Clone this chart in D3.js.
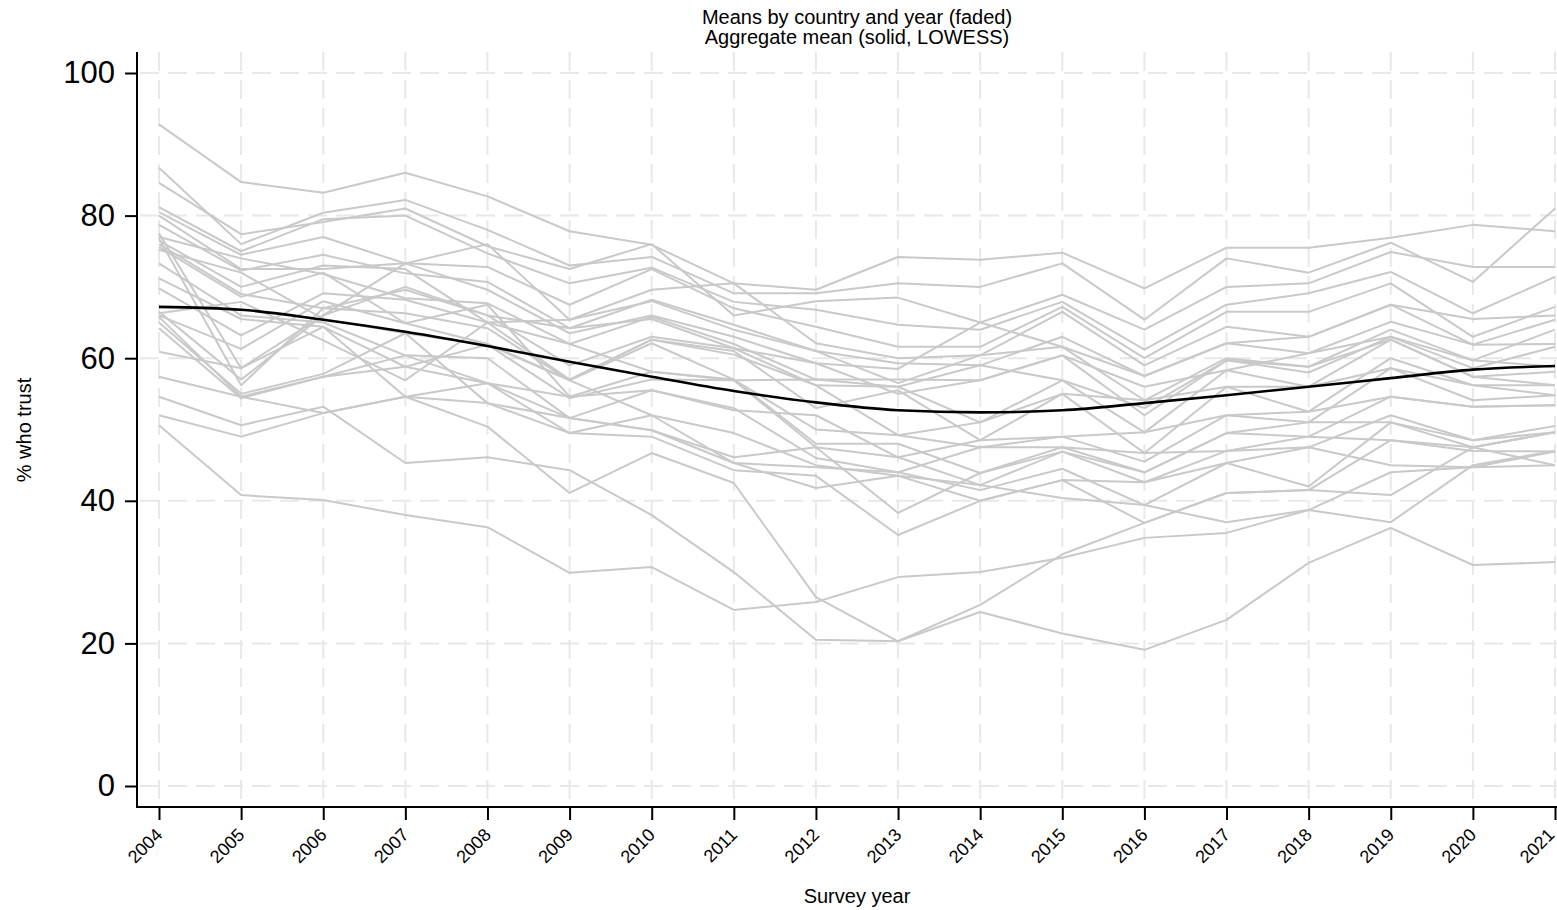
<!DOCTYPE html>
<html>
<head>
<meta charset="utf-8">
<script src="https://cdn.jsdelivr.net/npm/d3@7"></script>
<style>
  body { margin: 0; background: #fff; }
  text { font-family: "Liberation Sans", Arial, sans-serif; fill: #000; }
</style>
</head>
<body>
<div id="chart"></div>
<script>
"use strict";

// survey years on the x axis
var years = d3.range(2004, 2022);
var yTicks = [0, 20, 40, 60, 80, 100];

// country-by-year means (% who trust), one row per country, 2004..2021
var countryMeans = [
  [92.8, 84.7, 83.2, 86.0, 82.7, 77.8, 75.9, 70.5, 69.6, 74.2, 73.8, 74.8, 69.8, 75.5, 75.5, 76.9, 78.7, 77.8],
  [86.7, 76.0, 80.4, 82.2, 78.0, 73.0, 74.2, 69.1, 69.1, 70.5, 70.0, 73.3, 65.4, 74.0, 72.0, 76.2, 70.7, 81.0],
  [84.6, 77.4, 79.1, 81.0, 75.7, 72.5, 76.0, 66.0, 68.0, 68.5, 65.0, 68.9, 64.0, 70.0, 70.5, 74.9, 72.8, 72.8],
  [81.2, 75.0, 79.5, 80.0, 74.7, 70.5, 72.7, 67.9, 66.8, 64.7, 64.0, 67.9, 61.2, 67.5, 69.1, 72.1, 66.3, 71.4],
  [80.5, 74.5, 77.0, 73.3, 72.8, 67.5, 72.5, 67.0, 64.4, 61.6, 61.6, 67.2, 60.0, 66.5, 66.5, 70.5, 63.0, 67.2],
  [80.0, 72.5, 72.5, 73.3, 76.0, 65.4, 69.6, 70.5, 62.1, 60.0, 60.4, 66.5, 59.0, 64.4, 63.0, 67.5, 65.5, 66.0],
  [78.7, 72.3, 74.5, 71.9, 70.7, 64.2, 68.2, 64.7, 61.0, 59.3, 59.0, 63.0, 57.5, 62.1, 60.7, 65.1, 61.9, 65.4],
  [77.5, 58.6, 66.0, 73.3, 69.6, 63.5, 66.0, 63.0, 59.3, 58.5, 65.0, 61.6, 54.1, 60.0, 58.8, 64.0, 59.7, 64.0],
  [77.0, 74.0, 71.8, 68.4, 67.7, 62.0, 65.8, 62.0, 57.0, 57.0, 56.9, 60.4, 52.0, 59.7, 58.0, 63.0, 58.6, 61.6],
  [76.8, 56.2, 67.0, 69.6, 66.0, 59.0, 63.0, 61.4, 56.2, 56.0, 51.0, 56.9, 49.6, 58.3, 56.0, 62.6, 57.4, 58.1],
  [76.5, 70.0, 73.0, 72.5, 65.0, 57.0, 62.6, 61.0, 53.0, 55.5, 48.5, 55.0, 46.7, 56.0, 52.5, 60.0, 56.2, 56.2],
  [76.0, 69.0, 67.0, 66.3, 64.2, 56.9, 62.1, 57.0, 50.0, 49.2, 47.5, 49.0, 45.5, 52.0, 51.0, 58.6, 54.1, 54.8],
  [75.6, 68.6, 72.0, 64.9, 67.5, 54.6, 58.1, 57.0, 48.0, 48.0, 43.9, 47.5, 44.0, 49.5, 49.0, 54.6, 53.2, 53.4],
  [75.2, 72.0, 65.5, 63.5, 61.9, 54.4, 57.0, 56.9, 47.5, 46.1, 42.2, 46.9, 42.6, 47.0, 47.5, 52.0, 48.5, 50.5],
  [73.3, 66.0, 65.0, 60.4, 60.0, 51.6, 55.5, 53.0, 46.0, 44.0, 41.5, 44.5, 39.4, 45.3, 42.0, 51.0, 47.5, 49.6],
  [71.2, 65.5, 64.4, 58.8, 56.5, 49.5, 52.0, 49.5, 45.0, 43.5, 40.0, 42.9, 36.9, 41.1, 41.5, 48.5, 47.0, 46.9],
  [69.8, 63.2, 69.1, 68.2, 65.0, 65.4, 68.0, 64.0, 61.0, 56.5, 60.4, 61.6, 57.5, 62.1, 63.0, 67.5, 61.9, 62.0],
  [66.5, 57.0, 66.0, 70.0, 66.0, 64.2, 65.5, 61.4, 59.3, 55.0, 56.9, 60.4, 56.0, 58.3, 60.7, 63.0, 59.7, 58.8],
  [66.3, 67.9, 62.5, 56.9, 65.0, 62.0, 58.1, 56.9, 57.0, 56.0, 59.0, 56.9, 53.0, 59.7, 58.8, 62.6, 57.4, 56.2],
  [66.0, 61.3, 68.0, 64.9, 62.0, 57.0, 62.6, 60.5, 56.2, 49.2, 51.0, 55.0, 54.1, 56.0, 56.0, 58.6, 56.2, 54.8],
  [65.8, 54.6, 57.4, 60.4, 56.5, 54.6, 55.5, 52.7, 52.0, 46.1, 48.5, 49.0, 49.6, 52.0, 52.5, 54.6, 53.2, 53.4],
  [65.0, 55.0, 57.8, 63.5, 53.7, 51.6, 49.9, 46.1, 47.5, 38.3, 43.9, 46.9, 44.0, 49.5, 51.0, 51.0, 48.5, 49.6],
  [64.2, 54.4, 57.4, 58.8, 61.9, 56.9, 52.0, 45.3, 44.7, 44.0, 47.5, 47.5, 46.7, 47.0, 49.0, 48.5, 47.5, 45.0],
  [60.9, 58.6, 64.4, 54.6, 53.7, 49.5, 49.0, 44.3, 43.5, 35.2, 40.0, 42.9, 42.6, 45.3, 47.5, 45.0, 44.7, 46.9],
  [57.4, 54.6, 52.3, 54.6, 50.4, 41.1, 46.7, 42.5, 26.5, 20.3, 24.4, 21.4, 19.1, 23.3, 31.3, 36.2, 31.0, 31.4],
  [54.6, 50.6, 53.2, 45.3, 46.1, 44.3, 38.0, 30.0, 20.5, 20.3, 25.4, 32.5, 36.9, 41.1, 41.5, 40.8, 47.5, 49.6],
  [52.0, 49.0, 52.3, 54.6, 56.5, 51.6, 49.9, 45.3, 41.8, 43.5, 42.2, 40.4, 39.4, 37.0, 38.7, 44.0, 44.7, 45.0],
  [50.6, 40.8, 40.1, 38.0, 36.3, 29.9, 30.7, 24.7, 25.8, 29.3, 30.0, 32.0, 34.8, 35.5, 38.7, 37.0, 45.0, 47.0]
];

// aggregate mean, LOWESS smoothed
var lowessMean = [67.2, 66.8, 65.4, 63.7, 61.7, 59.5, 57.4, 55.4, 53.8, 52.7, 52.4, 52.7, 53.7, 54.8, 56.0, 57.2, 58.4, 58.9];

var width = 1557, height = 910;
var axisX = 137, axisY = 807, plotTop = 52;

var svg = d3.select("#chart").append("svg")
    .attr("width", width)
    .attr("height", height);

var x = d3.scaleLinear().domain([2004, 2021]).range([159, 1555]);
var y = d3.scaleLinear().domain([0, 100]).range([786, 73]);

// dashed grid
var grid = svg.append("g").attr("class", "grid")
    .attr("stroke", "#e8e8e8")
    .attr("stroke-width", 2)
    .attr("stroke-dasharray", "19,9");

grid.selectAll("line.h")
    .data(yTicks)
    .enter().append("line")
    .attr("class", "h")
    .attr("x1", axisX + 3).attr("x2", width)
    .attr("y1", function(d) { return y(d); })
    .attr("y2", function(d) { return y(d); });

grid.selectAll("line.v")
    .data(years)
    .enter().append("line")
    .attr("class", "v")
    .attr("y1", plotTop).attr("y2", axisY)
    .attr("x1", function(d) { return x(d); })
    .attr("x2", function(d) { return x(d); });

var line = d3.line()
    .x(function(d, i) { return x(years[i]); })
    .y(function(d) { return y(d); });

svg.append("g").attr("class", "countries")
    .selectAll("path")
    .data(countryMeans)
    .enter().append("path")
    .attr("d", line)
    .attr("fill", "none")
    .attr("stroke", "#c9c9c9")
    .attr("stroke-width", 2)
    .attr("stroke-linejoin", "round");

svg.append("path")
    .datum(lowessMean)
    .attr("d", line.curve(d3.curveMonotoneX))
    .attr("fill", "none")
    .attr("stroke", "#000")
    .attr("stroke-width", 2.6);

// y axis
var yAxis = svg.append("g")
    .attr("transform", "translate(" + axisX + ",0)")
    .call(d3.axisLeft(y).tickValues(yTicks).tickSize(12).tickPadding(10).tickSizeOuter(0));
yAxis.select(".domain").remove();
yAxis.selectAll(".tick line").attr("stroke", "#000").attr("stroke-width", 2);
yAxis.selectAll(".tick text")
    .style("font-size", "31px")
    .style("font-family", "'Liberation Sans', Arial, sans-serif");
svg.append("line")
    .attr("x1", axisX).attr("x2", axisX)
    .attr("y1", plotTop).attr("y2", axisY + 1)
    .attr("stroke", "#000").attr("stroke-width", 2);

// x axis
var xAxis = svg.append("g")
    .attr("transform", "translate(0," + axisY + ")")
    .call(d3.axisBottom(x).tickValues(years).tickFormat(d3.format("d")).tickSize(13).tickSizeOuter(0));
xAxis.select(".domain").remove();
xAxis.selectAll(".tick line").attr("stroke", "#000").attr("stroke-width", 2);
xAxis.selectAll(".tick text")
    .style("font-size", "18px")
    .style("font-family", "'Liberation Sans', Arial, sans-serif")
    .attr("text-anchor", "end")
    .attr("y", 0).attr("dy", 0)
    .attr("transform", function(d) {
        // last label would run past the right edge
        return "translate(" + (d === 2021 ? 0 : 4) + ",29) rotate(-45)";
    });
svg.append("line")
    .attr("x1", axisX - 1).attr("x2", width)
    .attr("y1", axisY).attr("y2", axisY)
    .attr("stroke", "#000").attr("stroke-width", 2);

// titles
svg.append("text")
    .attr("x", 857).attr("y", 24)
    .attr("text-anchor", "middle")
    .style("font-size", "20px")
    .text("Means by country and year (faded)");
svg.append("text")
    .attr("x", 857).attr("y", 44)
    .attr("text-anchor", "middle")
    .style("font-size", "20px")
    .text("Aggregate mean (solid, LOWESS)");

svg.append("text")
    .attr("x", 857).attr("y", 903)
    .attr("text-anchor", "middle")
    .style("font-size", "20px")
    .text("Survey year");

svg.append("text")
    .attr("transform", "translate(31,430) rotate(-90)")
    .attr("text-anchor", "middle")
    .style("font-size", "20px")
    .text("% who trust");
</script>
</body>
</html>
